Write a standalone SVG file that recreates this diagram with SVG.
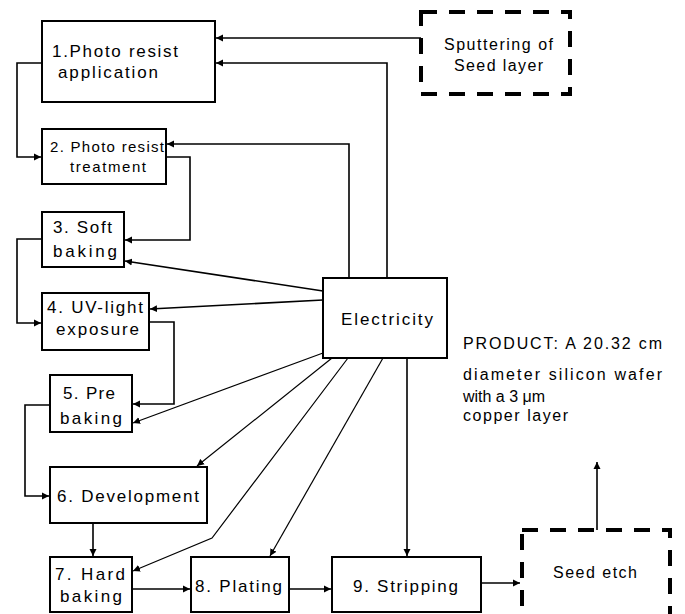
<svg xmlns="http://www.w3.org/2000/svg" width="685" height="614" viewBox="0 0 685 614">
<style>
.box{fill:#fff;stroke:#000;stroke-width:2}
.dbox{fill:#fff;stroke:#000;stroke-width:4;stroke-dasharray:16 12}
.t{font-family:"Liberation Sans",Arial,sans-serif;font-size:17px;fill:#000}
.s{font-size:15px}
.p{font-size:16px}
.c{fill:none;stroke:#000;stroke-width:1.6;marker-end:url(#ah)}
.d{fill:none;stroke:#000;stroke-width:1.2;marker-end:url(#ah)}
</style>
<defs>
<marker id="ah" markerWidth="8" markerHeight="8" refX="7" refY="4" orient="auto" markerUnits="userSpaceOnUse">
<path d="M0,0.5 L7,4 L0,7.5 Z" fill="#000"/>
</marker>
</defs>
<g id="connectors">
<path class="c" d="M421,38 H216"/>
<path class="c" d="M387,278 V63 H216"/>
<path class="c" d="M349,278 V144 H167"/>
<path class="c" d="M42,63 H17 V157 H41"/>
<path class="c" d="M166,157 H190 V240 H125"/>
<path class="c" d="M323,291 L125,261"/>
<path class="c" d="M323,300 L150,309"/>
<path class="c" d="M42,239 H17 V323 H41"/>
<path class="c" d="M149,322 H174 V404 H133"/>
<path class="d" d="M323,353 L133,423"/>
<path class="c" d="M50,405 H25 V496 H49"/>
<path class="d" d="M332,358 L197,466"/>
<path class="d" d="M348,358 L212,538 L133,571"/>
<path class="d" d="M383,358 L270,556"/>
<path class="c" d="M407,358 V556"/>
<path class="c" d="M93,523 V556"/>
<path class="c" d="M132,589 H190"/>
<path class="c" d="M289,589 H331"/>
<path class="c" d="M481,583 H520"/>
<path class="c" d="M597,530 V462"/>
</g>
<g id="n1"><rect class="box" x="42" y="21" width="173" height="81"/>
<text class="t" x="52" y="57" textLength="126" lengthAdjust="spacing">1.Photo resist</text>
<text class="t" x="58" y="78" textLength="100" lengthAdjust="spacing">application</text></g>
<g id="n2"><rect class="box" x="42" y="129" width="124" height="55"/>
<text class="t s" x="50" y="152" textLength="114" lengthAdjust="spacing">2. Photo resist</text>
<text class="t s" x="70" y="172" textLength="76" lengthAdjust="spacing">treatment</text></g>
<g id="n3"><rect class="box" x="42" y="212" width="82" height="55"/>
<text class="t" x="53" y="233" textLength="59" lengthAdjust="spacing">3. Soft</text>
<text class="t" x="53" y="257" textLength="64" lengthAdjust="spacing">baking</text></g>
<g id="n4"><rect class="box" x="42" y="293" width="107" height="57"/>
<text class="t" x="47" y="313" textLength="96" lengthAdjust="spacing">4. UV-light</text>
<text class="t" x="56" y="335" textLength="83" lengthAdjust="spacing">exposure</text></g>
<g id="n5"><rect class="box" x="50" y="375" width="82" height="57"/>
<text class="t" x="63" y="399" textLength="52" lengthAdjust="spacing">5. Pre</text>
<text class="t" x="60" y="424" textLength="62" lengthAdjust="spacing">baking</text></g>
<g id="n6"><rect class="box" x="50" y="467" width="157" height="56"/>
<text class="t" x="57" y="502" textLength="142" lengthAdjust="spacing">6. Development</text></g>
<g id="n7"><rect class="box" x="50" y="557" width="82" height="55"/>
<text class="t" x="55" y="580" textLength="70" lengthAdjust="spacing">7. Hard</text>
<text class="t" x="60" y="602" textLength="62" lengthAdjust="spacing">baking</text></g>
<g id="n8"><rect class="box" x="191" y="557" width="98" height="55"/>
<text class="t" x="195" y="592" textLength="87" lengthAdjust="spacing">8. Plating</text></g>
<g id="n9"><rect class="box" x="332" y="557" width="149" height="55"/>
<text class="t" x="353" y="592" textLength="105" lengthAdjust="spacing">9. Stripping</text></g>
<g id="elec"><rect class="box" x="323" y="278" width="124" height="80"/>
<text class="t" x="341" y="325" textLength="92" lengthAdjust="spacing">Electricity</text></g>
<g id="sputter"><rect class="dbox" x="421" y="12" width="149" height="82"/>
<text class="t p" x="444" y="50" textLength="109" lengthAdjust="spacing">Sputtering of</text>
<text class="t p" x="454" y="71" textLength="89" lengthAdjust="spacing">Seed layer</text></g>
<g id="seedetch"><rect class="dbox" x="522" y="530" width="148" height="100"/>
<text class="t p" x="553" y="578" textLength="84" lengthAdjust="spacing">Seed etch</text></g>
<g id="product">
<text class="t p" x="463" y="349" textLength="199" lengthAdjust="spacing">PRODUCT: A 20.32 cm</text>
<text class="t p" x="463" y="380" textLength="199" lengthAdjust="spacing">diameter silicon wafer</text>
<text class="t p" x="463" y="402" textLength="82" lengthAdjust="spacing">with a 3 μm</text>
<text class="t p" x="463" y="421" textLength="105" lengthAdjust="spacing">copper layer</text>
</g>
</svg>
